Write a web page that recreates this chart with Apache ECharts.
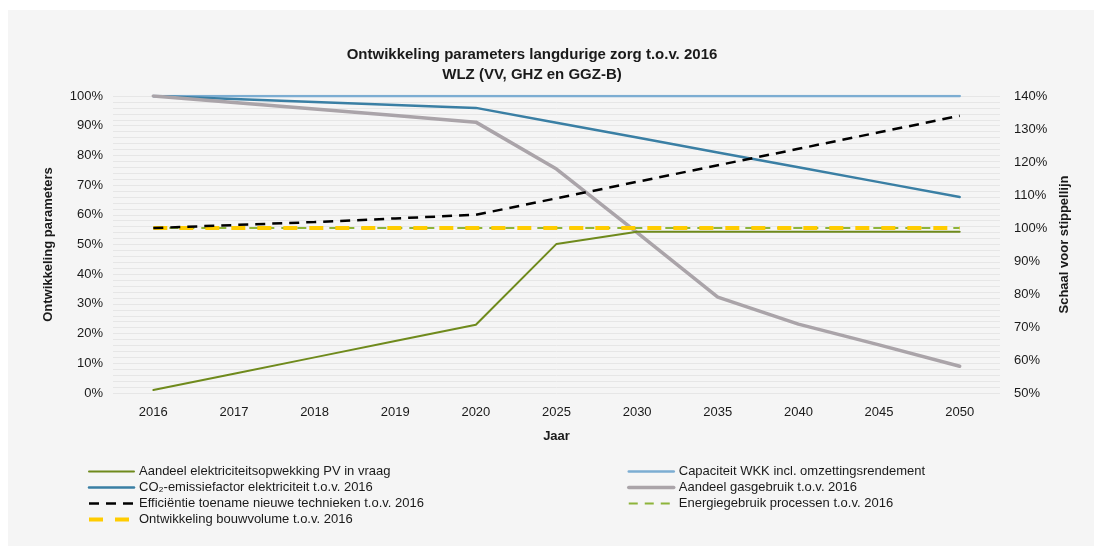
<!DOCTYPE html>
<html>
<head>
<meta charset="utf-8">
<script src="https://cdn.jsdelivr.net/npm/echarts@6/dist/echarts.min.js"></script>
<style>
  html, body { margin: 0; padding: 0; background: #fff; }
  #chart { width: 1094px; height: 546px; }
</style>
</head>
<body>
<div id="chart"></div>
<script>
// jaren op de x-as
const years = ['2016', '2017', '2018', '2019', '2020', '2025', '2030', '2035', '2040', '2045', '2050'];

// linker as (0-100%)
const pvAandeel = [1, 6.5, 12, 17.5, 23, 50.2, 54.3, 54.3, 54.3, 54.3, 54.3];
const co2Factor = [100, 99, 98, 97, 96, 91, 86, 81, 76, 71, 66];
const wkkCapaciteit = [100, 100, 100, 100, 100, 100, 100, 100, 100, 100, 100];
const gasAandeel = [100, 97.8, 95.6, 93.4, 91.2, 75.4, 54, 32.3, 23.2, 16.2, 9];

// rechter as (50-140%), stippellijnen
const efficientie = [100, 100.9, 101.8, 102.9, 104, 109, 114, 119, 124, 129, 134];
const bouwvolume = [100, 100, 100, 100, 100, 100, 100, 100, 100, 100, 100];
const processen = [100, 100, 100, 100, 100, 100, 100, 100, 100, 100, 100];

const names = {
  pv: 'Aandeel elektriciteitsopwekking PV in vraag',
  co2: 'CO\u2082-emissiefactor elektriciteit t.o.v. 2016',
  eff: 'Efficiëntie toename nieuwe technieken t.o.v. 2016',
  bouw: 'Ontwikkeling bouwvolume t.o.v. 2016',
  wkk: 'Capaciteit WKK incl. omzettingsrendement',
  gas: 'Aandeel gasgebruik t.o.v. 2016',
  proc: 'Energiegebruik processen t.o.v. 2016'
};

const font = '"Liberation Sans", Arial, sans-serif';
const txt = '#1a1a1a';

let myChart = echarts.init(document.getElementById('chart'));

function line(name, data, color, width, yIdx, type, z) {
  return {
    name: name,
    type: 'line',
    data: data,
    yAxisIndex: yIdx,
    symbol: 'none',
    z: z,
    lineStyle: { color: color, width: width, type: type || 'solid', cap: type ? 'butt' : 'round' },
    itemStyle: { color: color },
    animation: false
  };
}

const legendText = { fontFamily: font, fontSize: 13, color: txt };

myChart.setOption({
  backgroundColor: '#ffffff',
  animation: false,
  graphic: [{
    type: 'rect',
    z: -10,
    shape: { x: 8, y: 10, width: 1086, height: 536 },
    style: { fill: '#f5f5f5' }
  }],
  title: {
    text: 'Ontwikkeling parameters langdurige zorg t.o.v. 2016\nWLZ (VV, GHZ en GGZ-B)',
    left: 527,
    textAlign: 'center',
    top: 40,
    textStyle: { fontFamily: font, fontSize: 15, fontWeight: 'bold', color: txt, lineHeight: 20 }
  },
  grid: { left: 113, right: 94, top: 96, bottom: 153 },
  legend: [{
    orient: 'vertical',
    left: 82,
    top: 460,
    itemWidth: 45,
    itemHeight: 14,
    itemGap: 3,
    itemStyle: { opacity: 0 },
    lineStyle: { width: 'inherit' },
    textStyle: legendText,
    data: [names.pv, names.co2, names.eff, names.bouw]
  }, {
    orient: 'vertical',
    left: 622,
    top: 460,
    itemWidth: 45,
    itemHeight: 14,
    itemGap: 3,
    itemStyle: { opacity: 0 },
    lineStyle: { width: 'inherit' },
    textStyle: legendText,
    data: [names.wkk, names.gas, names.proc]
  }],
  xAxis: {
    type: 'category',
    data: years,
    boundaryGap: true,
    axisLine: { show: false },
    axisTick: { show: false },
    axisLabel: { fontFamily: font, fontSize: 13, color: txt, margin: 13 },
    name: 'Jaar',
    nameLocation: 'middle',
    nameGap: 37,
    nameTextStyle: { fontFamily: font, fontSize: 13, fontWeight: 'bold', color: txt }
  },
  yAxis: [{
    type: 'value',
    min: 0,
    max: 100,
    interval: 10,
    axisLine: { show: false },
    axisTick: { show: false },
    axisLabel: { formatter: '{value}%', fontFamily: font, fontSize: 13, color: txt, margin: 10 },
    splitLine: { lineStyle: { color: '#e6e6e6', width: 1 } },
    minorTick: { show: false, splitNumber: 5 },
    minorSplitLine: { show: true, lineStyle: { color: '#e6e6e6', width: 1 } },
    name: 'Ontwikkeling parameters',
    nameLocation: 'middle',
    nameGap: 58,
    nameRotate: 90,
    nameTextStyle: { fontFamily: font, fontSize: 13, fontWeight: 'bold', color: txt }
  }, {
    type: 'value',
    min: 50,
    max: 140,
    interval: 10,
    position: 'right',
    axisLine: { show: false },
    axisTick: { show: false },
    splitLine: { show: false },
    axisLabel: { formatter: '{value}%', fontFamily: font, fontSize: 13, color: txt, margin: 14 },
    name: 'Schaal voor stippellijn',
    nameLocation: 'middle',
    nameGap: 56,
    nameRotate: 90,
    nameTextStyle: { fontFamily: font, fontSize: 13, fontWeight: 'bold', color: txt }
  }],
  series: [
    line(names.wkk, wkkCapaciteit, '#7cadd2', 2.5, 0, null, 2),
    line(names.co2, co2Factor, '#3a7fa4', 2.5, 0, null, 3),
    line(names.gas, gasAandeel, '#aaa4a9', 3.5, 0, null, 4),
    line(names.pv, pvAandeel, '#6f8a1c', 2, 0, null, 5),
    line(names.proc, processen, '#8db43a', 2, 1, [9, 7], 6),
    line(names.bouw, bouwvolume, '#ffcc00', 4, 1, [14, 12], 7),
    line(names.eff, efficientie, '#000000', 2.5, 1, [10, 7], 8)
  ]
});

window.onresize = function () {
  myChart.resize();
};
</script>
</body>
</html>
